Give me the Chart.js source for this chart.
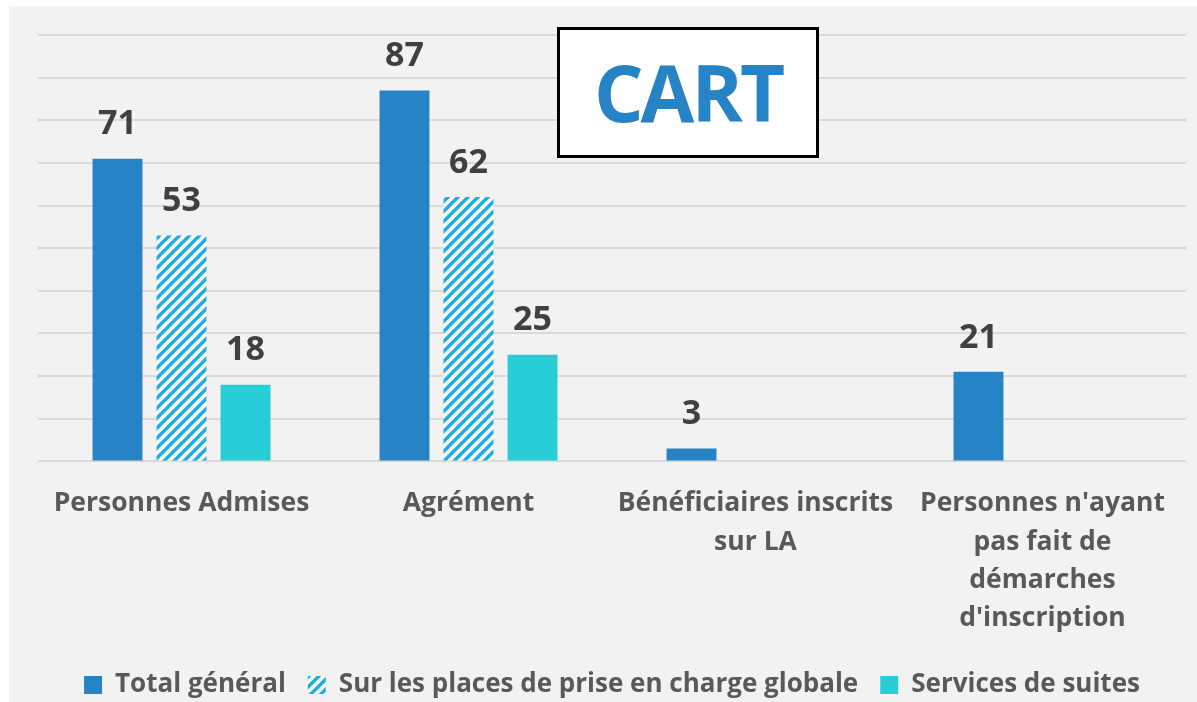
<!DOCTYPE html>
<html>
<head>
<meta charset="utf-8">
<script src="https://cdn.jsdelivr.net/npm/chart.js@4/dist/chart.umd.min.js"></script>
<style>
  html, body { margin: 0; padding: 0; background: #ffffff; overflow: hidden; }
  #wrap { position: absolute; left: 9px; top: 6px; width: 1188px; height: 702px; background: #f2f2f2; overflow: hidden; }
  #c { position: absolute; left: 0; top: 0; }
  #cart { position: absolute; left: 548px; top: 21px; width: 262px; height: 131px; box-sizing: border-box;
          border: 3px solid #000; background: #fff; display: flex; align-items: center; justify-content: center;
          font-family: "Open Sans", sans-serif; font-weight: 700; font-size: 78px; color: #2683C6; letter-spacing: -3px; }
  #cart span { display: inline-block; margin-top: -2px; }
</style>
</head>
<body>
<div id="wrap">
  <canvas id="c" width="1188" height="702"></canvas>
  <div id="cart"><span>CART</span></div>
</div>
<script>
const categories = [
  ["Personnes Admises"],
  ["Agrément"],
  ["Bénéficiaires inscrits", "sur LA"],
  ["Personnes n'ayant", "pas fait de", "démarches", "d'inscription"]
];
const seriesNames = ["Total général", "Sur les places de prise en charge globale", "Services de suites"];
const totalGeneral = [71, 87, 3, 21];
const surLesPlaces = [53, 62, null, null];
const servicesSuites = [18, 25, null, null];
const yTicks = [0, 10, 20, 30, 40, 50, 60, 70, 80, 90, 100];

function makeHatch() {
  const s = 10;
  const p = document.createElement('canvas');
  p.width = s; p.height = s;
  const g = p.getContext('2d');
  g.fillStyle = '#ffffff';
  g.fillRect(0, 0, s, s);
  g.strokeStyle = '#1CADE4';
  g.lineWidth = 3.4;
  g.lineCap = 'square';
  for (const o of [-s, 0, s]) {
    g.beginPath();
    g.moveTo(o - 1, s + 1);
    g.lineTo(o + s + 1, -1);
    g.stroke();
  }
  return document.getElementById('c').getContext('2d').createPattern(p, 'repeat');
}
const hatch = makeHatch();

const FONT = '"Open Sans", sans-serif';

const valueLabels = {
  id: 'valueLabels',
  afterDatasetsDraw(chart) {
    const ctx = chart.ctx;
    ctx.save();
    ctx.font = 'bold 34px ' + FONT;
    ctx.fillStyle = '#404040';
    ctx.textAlign = 'center';
    ctx.textBaseline = 'middle';
    chart.data.datasets.forEach((ds, i) => {
      const meta = chart.getDatasetMeta(i);
      if (meta.hidden) return;
      meta.data.forEach((el, j) => {
        const v = ds.data[j];
        if (v === null || v === undefined) return;
        ctx.fillText(String(v), el.x, el.y - 34);
      });
    });
    ctx.restore();
  }
};

new Chart(document.getElementById('c'), {
  type: 'bar',
  data: {
    labels: categories,
    datasets: [
      { label: seriesNames[0], data: totalGeneral, backgroundColor: '#2683C6' },
      { label: seriesNames[1], data: surLesPlaces, backgroundColor: hatch },
      { label: seriesNames[2], data: servicesSuites, backgroundColor: '#27CED7' }
    ]
  },
  options: {
    responsive: false,
    maintainAspectRatio: false,
    animation: false,
    categoryPercentage: 0.669,
    barPercentage: 0.78,
    layout: { padding: { left: 29, right: 11, top: 29, bottom: 0 } },
    plugins: {
      tooltip: { enabled: false },
      legend: {
        position: 'bottom',
        labels: {
          font: { family: FONT, size: 26, weight: 'bold' },
          color: '#595959',
          boxWidth: 18,
          boxHeight: 18,
          padding: 22
        }
      }
    },
    scales: {
      x: {
        grid: { display: false, drawTicks: false },
        border: { display: false },
        ticks: {
          font: { family: FONT, size: 26.5, weight: 'bold', lineHeight: 1.449 },
          color: '#595959',
          padding: 23,
          maxRotation: 0,
          autoSkip: false
        },
        afterFit(scale) { scale.height = 188.6; }
      },
      y: {
        min: 0,
        max: 100,
        afterBuildTicks(scale) { scale.ticks = yTicks.map(v => ({ value: v })); },
        ticks: { display: false },
        border: { display: false },
        grid: { color: '#d9d9d9', lineWidth: 2, drawTicks: false }
      }
    }
  },
  plugins: [valueLabels]
});
</script>
</body>
</html>
